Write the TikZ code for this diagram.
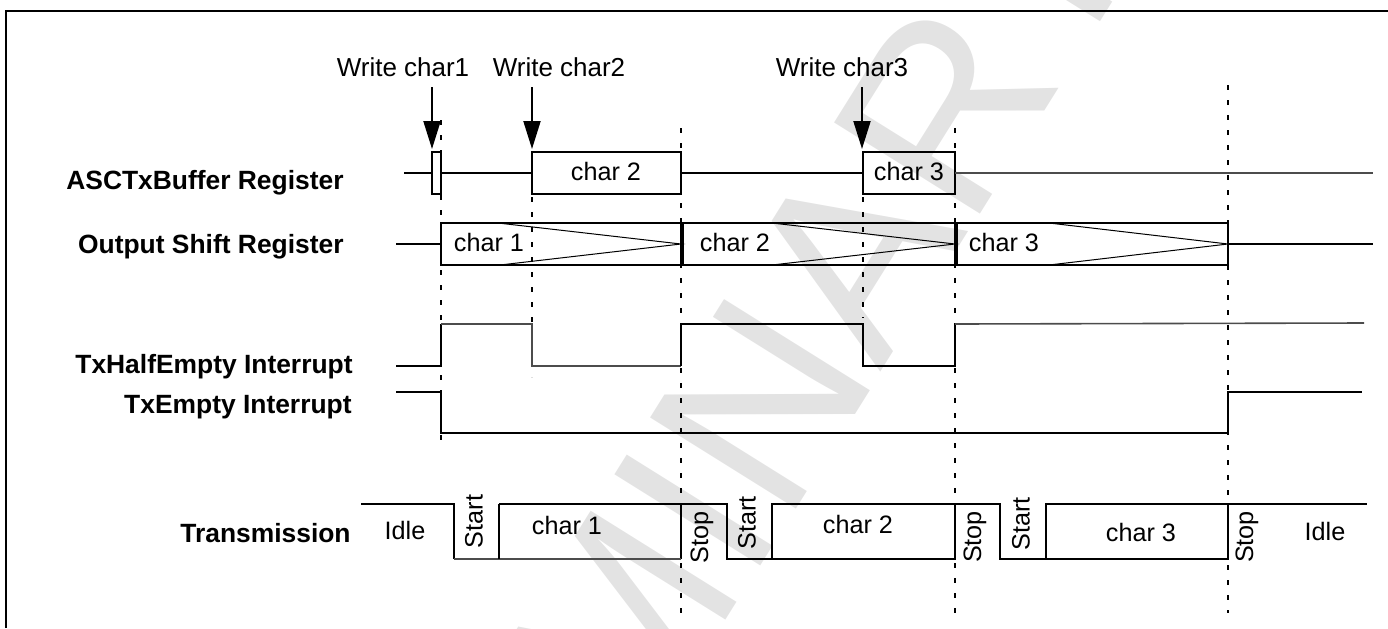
\documentclass[tikz,border=0pt]{standalone}
\usepackage{fontspec}
\setmainfont{Liberation Sans}
\usetikzlibrary{arrows.meta}
\tikzset{
  sig/.style={line width=1pt, black},
  sigg/.style={line width=0.8pt, black!70},
  thinline/.style={line width=0.5pt, black},
  gridline/.style={line width=1pt, dash pattern=on 2.5pt off 5pt},
  lbl/.style={font=\bfseries\fontsize{13.2}{15}\selectfont, anchor=base east, inner sep=0pt},
  txt/.style={font=\fontsize{12.6}{15}\selectfont, anchor=base, inner sep=0pt},
  vtxt/.style={font=\fontsize{12.6}{15}\selectfont, rotate=90, inner sep=0pt},
  wtxt/.style={font=\fontsize{13}{15}\selectfont, anchor=base, inner sep=0pt},
  wrarrow/.style={line width=1pt, -{Triangle[length=14pt, width=8.5pt]}},
  watermark/.style={font=\fontsize{125}{130}\selectfont, text=black!11, rotate=58, inner sep=0pt},
}
\begin{document}
\begin{tikzpicture}[x=0.5pt,y=-0.5pt]
\useasboundingbox (0,0) rectangle (1388,628);
% watermark
\begin{scope}
\clip (0,0) rectangle (1388,628);
\node[watermark] (wm) at (630,612) {PRELIMINARY};
\end{scope}
% frame
\draw[line width=1pt] (6,628) -- (6,11) -- (1388,11);

% labels
\node[lbl] (lA) at (344,189) {ASCTxBuffer Register};
\node[lbl] (lO) at (344,253.5) {Output Shift Register};
\node[lbl] (lH) at (353,373) {TxHalfEmpty Interrupt};
\node[lbl] (lE) at (352,413.5) {TxEmpty Interrupt};
\node[lbl] (lT) at (351,542) {Transmission};

% dashed time markers
\draw[gridline] (441,120) -- (441,442);
\draw[gridline] (532,197) -- (532,377);
\draw[gridline] (681,128) -- (681,613);
\draw[gridline] (863,197) -- (863,318);
\draw[gridline] (955,128) -- (955,613);
\draw[gridline] (1228,85) -- (1228,613);

% write arrows
\node[wtxt] (w1) at (403,76) {Write char1};
\node[wtxt] (w2) at (559,76) {Write char2};
\node[wtxt] (w3) at (842,76) {Write char3};
\coordinate (a1s) at (432,87); \coordinate (a1e) at (432,149);
\coordinate (a2s) at (532,87); \coordinate (a2e) at (532,149);
\coordinate (a3s) at (862,87); \coordinate (a3e) at (862,149);
\draw[wrarrow] (a1s) -- (a1e);
\draw[wrarrow] (a2s) -- (a2e);
\draw[wrarrow] (a3s) -- (a3e);

% ASCTxBuffer Register
\draw[sig] (404,173) -- (432,173);
\draw[sig] (432,152) rectangle (441,194);
\draw[sig] (441,173) -- (532,173);
\draw[sig] (532,152) rectangle (681,194);
\node[txt] (b2) at (606,180) {char 2};
\draw[sig] (681,173) -- (863,173);
\draw[sig] (863,152) rectangle (955,194);
\node[txt] (b3) at (909,180) {char 3};
\draw[sigg] (955,173) -- (1373,173);

% Output Shift Register
\draw[sig] (396,244) -- (441,244);
\draw[sig] (441,223) rectangle (681,265);
\draw[thinline] (498,223) -- (681,244) -- (500,265);
\node[txt] (s1) at (489,251.5) {char 1};
\draw[sig] (683,223) rectangle (955,265);
\draw[thinline] (772,223) -- (955,244) -- (772,265);
\node[txt] (s2) at (735,251.5) {char 2};
\draw[sig] (957,223) rectangle (1228,265);
\draw[thinline] (1049,223) -- (1228,244) -- (1049,265);
\node[txt] (s3) at (1004,251.5) {char 3};
\draw[sig] (1228,244) -- (1373,244);

% TxHalfEmpty Interrupt
\draw[sig] (396,366) -- (441,366) -- (441,324);
\draw[sigg] (441,324) -- (532,324) -- (532,366) -- (681,366);
\draw[sig] (681,366) -- (681,324) -- (863,324) -- (863,366) -- (955,366) -- (955,324);
\draw[sigg] (955,324) -- (1364,323);

% TxEmpty Interrupt
\draw[sig] (396,391.5) -- (441,391.5) -- (441,432.7) -- (1228,432.7) -- (1228,391.5) -- (1362,391.5);

% Transmission
\draw[sig] (361,504) -- (454,504) -- (454,559);
\draw[sigg] (454,559) -- (499,559);
\draw[sig] (499,504) -- (681,504) -- (681,559);
\draw[sigg] (499,559) -- (681,559);
\draw[sig] (499,504) -- (499,559);
\draw[sig] (681,504) -- (726.5,504) -- (726.5,559) -- (771.5,559);
\draw[sig] (771.5,504) rectangle (955,559);
\draw[sig] (955,504) -- (1000,504) -- (1000,559) -- (1045.7,559);
\draw[sig] (1045.7,504) rectangle (1228,559);
\draw[sig] (1228,504) -- (1367,504);

\node[txt] (i1) at (405,539) {Idle};
\node[vtxt] (st1) at (474,521.5) {Start};
\node[txt] (t1) at (567,534) {char 1};
\node[vtxt] (sp1) at (702,537.5) {Stop};
\node[vtxt] (st2) at (747,523) {Start};
\node[txt] (t2) at (858,533) {char 2};
\node[vtxt] (sp2) at (975,537) {Stop};
\node[vtxt] (st3) at (1021,524) {Start};
\node[txt] (t3) at (1141,541) {char 3};
\node[vtxt] (sp3) at (1247,537) {Stop};
\node[txt] (i2) at (1325,540) {Idle};
\end{tikzpicture}
\end{document}
